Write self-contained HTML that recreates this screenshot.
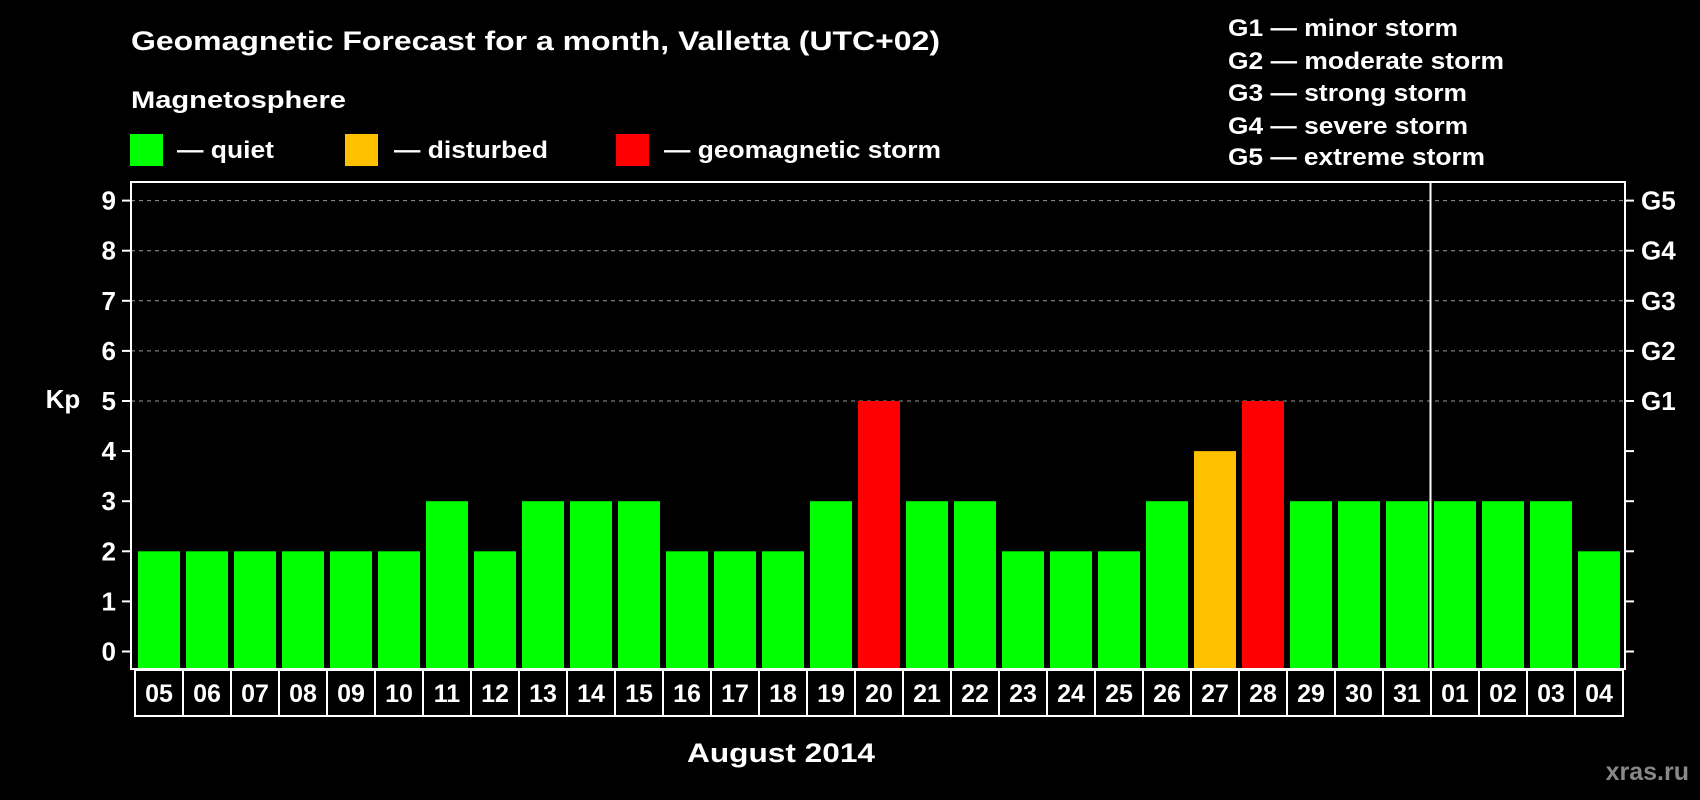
<!DOCTYPE html>
<html><head><meta charset="utf-8"><style>
html,body{margin:0;padding:0;background:#000;}
svg{display:block;font-family:"Liberation Sans",Arial,sans-serif;font-weight:bold;}
</style></head><body>
<svg id="chart" width="1700" height="800" viewBox="0 0 1700 800">
<rect x="0" y="0" width="1700" height="800" fill="#000"/>
<text x="131" y="50" font-size="27" fill="#fff" textLength="809" lengthAdjust="spacingAndGlyphs">Geomagnetic Forecast for a month, Valletta (UTC+02)</text>
<text x="131" y="108" font-size="24" fill="#fff" textLength="215" lengthAdjust="spacingAndGlyphs">Magnetosphere</text>
<g>
<rect x="130" y="134" width="33" height="32" fill="#00ff00"/>
<text x="177" y="158" font-size="24" fill="#fff" textLength="97" lengthAdjust="spacingAndGlyphs">— quiet</text></g>
<g>
<rect x="345" y="134" width="33" height="32" fill="#ffc000"/>
<text x="394" y="158" font-size="24" fill="#fff" textLength="154" lengthAdjust="spacingAndGlyphs">— disturbed</text></g>
<g>
<rect x="616" y="134" width="33" height="32" fill="#ff0000"/>
<text x="664" y="158" font-size="24" fill="#fff" textLength="277" lengthAdjust="spacingAndGlyphs">— geomagnetic storm</text></g>
<g font-size="24" fill="#fff">
<text x="1228" y="36" textLength="230" lengthAdjust="spacingAndGlyphs">G1 — minor storm</text>
<text x="1228" y="69" textLength="276" lengthAdjust="spacingAndGlyphs">G2 — moderate storm</text>
<text x="1228" y="101" textLength="239" lengthAdjust="spacingAndGlyphs">G3 — strong storm</text>
<text x="1228" y="134" textLength="240" lengthAdjust="spacingAndGlyphs">G4 — severe storm</text>
<text x="1228" y="165" textLength="257" lengthAdjust="spacingAndGlyphs">G5 — extreme storm</text>
</g>
<g id="grid"></g>
<g id="bars"></g>
<g id="axes"></g>
<g id="xlabels"></g>
<text x="63" y="408" font-size="26" fill="#fff" text-anchor="middle">Kp</text>
<text x="781" y="762" font-size="27" fill="#fff" text-anchor="middle" textLength="188" lengthAdjust="spacingAndGlyphs">August 2014</text>
<text x="1689" y="780" font-size="25" fill="#888" text-anchor="end">xras.ru</text>
</svg>
<script>
const days = ["05","06","07","08","09","10","11","12","13","14","15","16","17","18","19","20","21","22","23","24","25","26","27","28","29","30","31","01","02","03","04"];
const kpValues = [2,2,2,2,2,2,3,2,3,3,3,2,2,2,3,5,3,3,2,2,2,3,4,5,3,3,3,3,3,3,2];
const yTicks = [0,1,2,3,4,5,6,7,8,9];
const gLevels = [5,6,7,8,9];
const gLabels = ["G1","G2","G3","G4","G5"];
const monthBreakIndex = 27;

const NS = "http://www.w3.org/2000/svg";
const L = 131, R = 1625, T = 182, B = 669;
const x0 = 135, step = 48;
function yScale(v){ return 651.5 - 50.1 * v; }
function xScale(i){ return x0 + i * step; }
function mk(tag, attrs, parent){
  const e = document.createElementNS(NS, tag);
  for (const k in attrs) e.setAttribute(k, attrs[k]);
  parent.appendChild(e); return e;
}
function colorFor(v){ return v >= 5 ? "#ff0000" : (v >= 4 ? "#ffc000" : "#00ff00"); }

const grid = document.getElementById("grid");
gLevels.forEach(v => {
  const l = mk("line", {x1:L, x2:R, y1:yScale(v), y2:yScale(v), stroke:"#999", "stroke-width":1, "stroke-dasharray":"4,4"}, grid);
  
  
});

const bars = document.getElementById("bars");
kpValues.forEach((v, i) => {
  const top = yScale(v);
  const r = mk("rect", {x:xScale(i) + 3, y:top, width:42, height:668 - top, fill:colorFor(v)}, bars);
  
  
});

const axes = document.getElementById("axes");
const frame = mk("rect", {x:L, y:T, width:R - L, height:B - T, fill:"none", stroke:"#fff", "stroke-width":2}, axes);


const divX = xScale(monthBreakIndex) - 0.5;
const dv = mk("line", {x1:divX, x2:divX, y1:T, y2:B, stroke:"#fff", "stroke-width":2}, axes);


yTicks.forEach(v => {
  const y = yScale(v);
  const t1 = mk("line", {x1:L - 9, x2:L, y1:y, y2:y, stroke:"#fff", "stroke-width":2}, axes);
  
  
  const t2 = mk("line", {x1:R, x2:R + 9, y1:y, y2:y, stroke:"#fff", "stroke-width":2}, axes);
  
  
  const tx = mk("text", {x:116, y:y + 9, "font-size":26, fill:"#fff", "text-anchor":"end"}, axes);
  tx.textContent = v;
  
  
});
gLevels.forEach((v, i) => {
  const tx = mk("text", {x:1641, y:yScale(v) + 9, "font-size":26, fill:"#fff"}, axes);
  tx.textContent = gLabels[i];
  
  
});

const xl = document.getElementById("xlabels");
days.forEach((d, i) => {
  const b = mk("rect", {x:xScale(i), y:670, width:step, height:46, fill:"#000", stroke:"#fff", "stroke-width":2}, xl);
  
  
  const t = mk("text", {x:xScale(i) + step / 2, y:702, "font-size":25, fill:"#fff", "text-anchor":"middle"}, xl);
  t.textContent = d;
  
  
});
</script>
</body></html>
